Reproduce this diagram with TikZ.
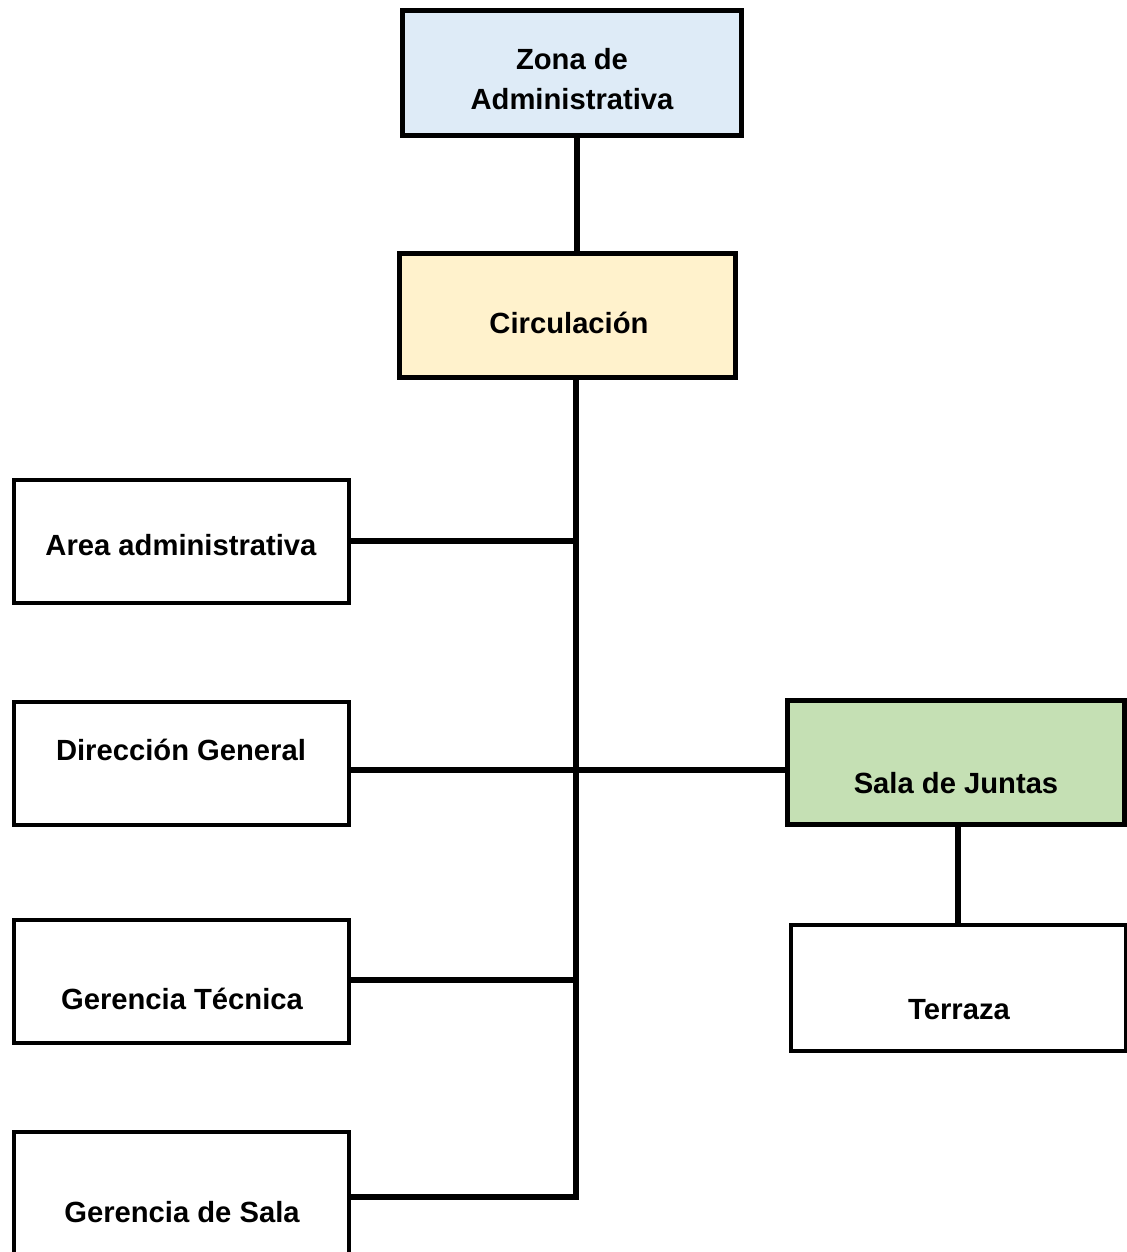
\documentclass[tikz,border=0pt]{standalone}
\usepackage{fontspec}
\setmainfont{Liberation Sans}
\begin{document}
\begin{tikzpicture}[x=0.75pt,y=-0.75pt,
  heavybox/.style={draw=black,line width=3.9pt,rectangle,inner sep=0pt,outer sep=0pt},
  lightbox/.style={draw=black,line width=3pt,rectangle,inner sep=0pt,outer sep=0pt,fill=white},
  lbl/.style={font=\fontsize{21.9pt}{30pt}\selectfont\bfseries,anchor=base,inner sep=0pt},
  wire/.style={draw=black,line width=4pt}]
\definecolor{zonablue}{HTML}{DEEBF7}
\definecolor{circyellow}{HTML}{FFF2CC}
\definecolor{salagreen}{HTML}{C5E0B4}
\useasboundingbox[fill=white] (0,0) rectangle (1127,1252);

% boxes
\node[heavybox,fill=zonablue,minimum width=254.25pt,minimum height=93.75pt] (zona) at (572,73) {};
\node[heavybox,fill=circyellow,minimum width=252pt,minimum height=93pt] (circ) at (567.5,315.5) {};
\node[lightbox,minimum width=251.25pt,minimum height=92.25pt] (area) at (181,541) {};
\node[lightbox,minimum width=251.25pt,minimum height=92.25pt] (dir) at (181,763) {};
\node[lightbox,minimum width=251.25pt,minimum height=92.25pt] (gtec) at (181,981) {};
\node[lightbox,minimum width=251.25pt,minimum height=92.25pt] (gsala) at (181,1193) {};
\node[heavybox,fill=salagreen,minimum width=252.75pt,minimum height=93pt] (sala) at (956,762.5) {};
\node[lightbox,minimum width=251.25pt,minimum height=94.5pt] (terr) at (958,987.5) {};

% labels
\node[lbl] (tzona1) at (572,70) {Zona de};
\node[lbl] (tzona2) at (572,110) {Administrativa};
\node[lbl] (tcirc) at (569,333) {Circulación};
\node[lbl] (tarea) at (181,555) {Area administrativa};
\node[lbl] (tdir) at (181,760) {Dirección General};
\node[lbl] (tsala) at (956,793) {Sala de Juntas};
\node[lbl] (tgtec) at (182,1009) {Gerencia Técnica};
\node[lbl] (tterr) at (959,1019) {Terraza};
\node[lbl] (tgsala) at (182,1222) {Gerencia de Sala};

% spine position
\coordinate (sp) at (576,0);
\coordinate (zx) at (577,0);
\coordinate (tx) at (958,0);

% connectors
\draw[wire] (zona.south -| zx) -- (circ.north -| zx);
\draw[wire] (circ.south -| sp) -- (sp |- 0,1197) -- (gsala.east |- 0,1197);
\draw[wire] (area.east |- 0,541) -- (sp |- 0,541);
\draw[wire] (dir.east |- 0,770) -- (sala.west |- 0,770);
\draw[wire] (gtec.east |- 0,980) -- (sp |- 0,980);
\draw[wire] (sala.south -| tx) -- (terr.north -| tx);
\end{tikzpicture}
\end{document}
